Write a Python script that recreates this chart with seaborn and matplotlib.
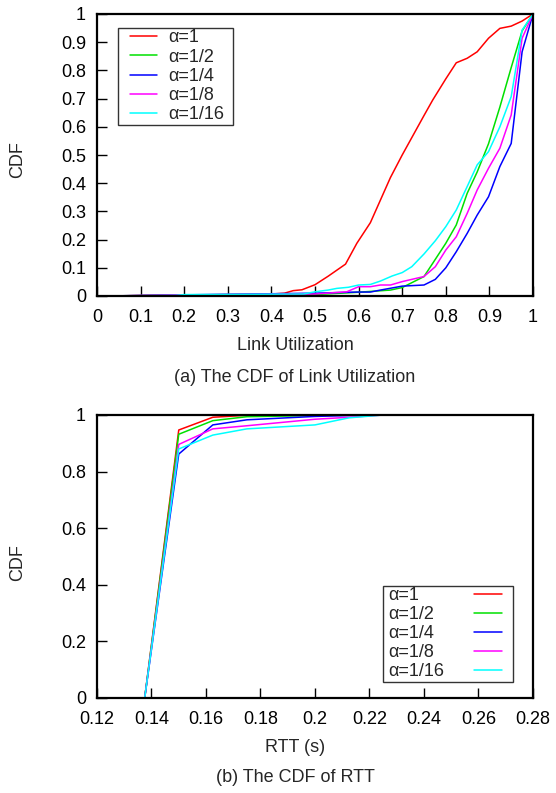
import numpy as np
import pandas as pd
import matplotlib
matplotlib.use("Agg")
import matplotlib.pyplot as plt
from matplotlib.path import Path
import seaborn as sns

sns.set_theme(style="white")
plt.rcParams['font.family'] = ['Liberation Sans', 'DejaVu Sans']
plt.rcParams['font.size'] = 13

labels = ["α=1", "α=1/2", "α=1/4", "α=1/8", "α=1/16"]
colors = ["#ff0000", "#00e000", "#0000ff", "#ff00ff", "#00ffff"]

# (a) Link utilization CDF
util_red_x = [0.023, 0.40, 0.43, 0.45, 0.47, 0.50, 0.53, 0.57, 0.596, 0.627, 0.673, 0.70, 0.75, 0.77, 0.80, 0.824, 0.849, 0.872, 0.898, 0.924, 0.95, 0.975, 1.0]
util_red_y = [0.0, 0.007, 0.01, 0.019, 0.022, 0.04, 0.07, 0.113, 0.187, 0.26, 0.42, 0.50, 0.64, 0.695, 0.77, 0.827, 0.843, 0.866, 0.914, 0.949, 0.957, 0.975, 1.0]
util_green_x = [0.023, 0.20, 0.50, 0.596, 0.673, 0.70, 0.75, 0.77, 0.80, 0.824, 0.849, 0.872, 0.898, 0.924, 0.95, 0.975, 1.0]
util_green_y = [0.0, 0.004, 0.005, 0.013, 0.021, 0.03, 0.069, 0.116, 0.187, 0.252, 0.364, 0.44, 0.54, 0.67, 0.81, 0.94, 1.0]
util_blue_x = [0.023, 0.20, 0.50, 0.596, 0.627, 0.65, 0.70, 0.75, 0.776, 0.80, 0.824, 0.849, 0.872, 0.898, 0.924, 0.95, 0.975, 1.0]
util_blue_y = [0.0, 0.004, 0.01, 0.014, 0.014, 0.021, 0.035, 0.039, 0.059, 0.10, 0.157, 0.222, 0.287, 0.352, 0.459, 0.541, 0.866, 1.0]
util_mag_x = [0.023, 0.20, 0.50, 0.573, 0.60, 0.627, 0.65, 0.673, 0.70, 0.722, 0.75, 0.776, 0.80, 0.824, 0.849, 0.872, 0.898, 0.924, 0.95, 0.975, 1.0]
util_mag_y = [0.0, 0.004, 0.007, 0.015, 0.033, 0.033, 0.039, 0.039, 0.051, 0.059, 0.069, 0.104, 0.163, 0.21, 0.293, 0.376, 0.453, 0.524, 0.642, 0.914, 1.0]
util_cyan_x = [0.023, 0.18, 0.20, 0.474, 0.50, 0.53, 0.55, 0.577, 0.60, 0.627, 0.65, 0.677, 0.70, 0.722, 0.75, 0.776, 0.80, 0.824, 0.849, 0.872, 0.898, 0.924, 0.95, 0.975, 1.0]
util_cyan_y = [0.0, 0.002, 0.005, 0.007, 0.015, 0.021, 0.027, 0.031, 0.039, 0.041, 0.053, 0.071, 0.083, 0.104, 0.149, 0.196, 0.246, 0.305, 0.388, 0.465, 0.512, 0.60, 0.707, 0.943, 1.0]

# (b) RTT CDF
rtt_x = [0.1375, 0.15, 0.1625, 0.175, 0.2, 0.2125, 0.225, 0.275]
rtt_red = [0.0, 0.947, 0.992, 0.999, 1.0, 1.0, 1.0, 1.0]
rtt_green = [0.0, 0.932, 0.98, 0.994, 0.998, 1.0, 1.0, 1.0]
rtt_blue = [0.0, 0.862, 0.965, 0.983, 0.995, 0.998, 1.0, 1.0]
rtt_mag = [0.0, 0.896, 0.951, 0.962, 0.985, 0.992, 1.0, 1.0]
rtt_cyan = [0.0, 0.88, 0.929, 0.951, 0.965, 0.990, 1.0, 1.0]

util_series = [(util_red_x, util_red_y), (util_green_x, util_green_y), (util_blue_x, util_blue_y),
               (util_mag_x, util_mag_y), (util_cyan_x, util_cyan_y)]
rtt_series = [rtt_red, rtt_green, rtt_blue, rtt_mag, rtt_cyan]

fig = plt.figure(figsize=(5.56, 7.93), dpi=100)
ax1 = fig.add_axes([97/556, 1-296/793, 436/556, 282/793])
ax2 = fig.add_axes([97/556, 1-698/793, 436/556, 283/793])

LW = 1.1
for (xs, ys), lab, c in zip(util_series, labels, colors):
    sns.lineplot(x=xs, y=ys, ax=ax1, color=c, label=lab, linewidth=LW, sort=False, estimator=None)
for ys, lab, c in zip(rtt_series, labels, colors):
    sns.lineplot(x=rtt_x, y=ys, ax=ax2, color=c, label=lab, linewidth=LW, sort=False, estimator=None)

def style(ax):
    for s in ax.spines.values():
        s.set_color("black")
        s.set_linewidth(1.6)
    ax.tick_params(direction="in", length=7, width=1, colors="black", labelsize=13,
                   bottom=True, left=True, top=False, right=False, pad=8)
    ax.tick_params(axis="x", pad=9)
    ax.grid(False)

ax1.set_xlim(0, 1)
ax1.set_ylim(0, 1)
ax1.set_xticks(np.arange(0, 1.01, 0.1))
ax1.set_xticklabels(["0", "0.1", "0.2", "0.3", "0.4", "0.5", "0.6", "0.7", "0.8", "0.9", "1"])
ax1.set_yticks(np.arange(0, 1.01, 0.1))
ax1.set_yticklabels(["0", "0.1", "0.2", "0.3", "0.4", "0.5", "0.6", "0.7", "0.8", "0.9", "1"])
ax1.set_xlabel("Link Utilization", fontsize=13)
ax1.set_ylabel("CDF", fontsize=13)
ax1.xaxis.set_label_coords((295-97)/436, (296-345)/282)
ax1.xaxis.label.set_va("center")
ax1.yaxis.set_label_coords((18-97)/436, (296-160)/282)
ax1.yaxis.label.set_va("center")
style(ax1)

ax2.set_xlim(0.12, 0.28)
ax2.set_ylim(0, 1)
ax2.set_xticks(np.arange(0.12, 0.2801, 0.02))
ax2.set_xticklabels(["0.12", "0.14", "0.16", "0.18", "0.2", "0.22", "0.24", "0.26", "0.28"])
ax2.set_yticks(np.arange(0, 1.01, 0.2))
ax2.set_yticklabels(["0", "0.2", "0.4", "0.6", "0.8", "1"])
ax2.set_xlabel("RTT (s)", fontsize=13)
ax2.set_ylabel("CDF", fontsize=13)
ax2.xaxis.set_label_coords((295-97)/436, (698-747)/283)
ax2.xaxis.label.set_va("center")
ax2.yaxis.set_label_coords((18-97)/436, (698-563)/283)
ax2.yaxis.label.set_va("center")
style(ax2)


def padded_box(left, right, top, bottom):
    def box(x0, y0, width, height, mutation_size):
        xa, xb = x0 - left, x0 + width + right
        ya, yb = y0 - bottom, y0 + height + top
        return Path([(xa, ya), (xb, ya), (xb, yb), (xa, yb), (xa, ya)], closed=True)
    return box


leg1 = ax1.legend(loc="upper left", bbox_to_anchor=((130-97)/436, (296-29.5)/282),
                  frameon=True, fancybox=False, fontsize=13, handlelength=1.5,
                  labelspacing=0.12, borderpad=0.0, handletextpad=0.6, borderaxespad=0)
leg1.get_frame().set_edgecolor("black")
leg1.get_frame().set_linewidth(1.0)
leg1.get_frame().set_boxstyle(padded_box(12, 9, 1.5, 1.5))

leg2 = ax2.legend(loc="lower right", bbox_to_anchor=((502-97)/436, (698-680.5)/283),
                  frameon=True, fancybox=False, fontsize=13, handlelength=1.55,
                  labelspacing=0.12, borderpad=0.0, handletextpad=1.0, borderaxespad=0,
                  markerfirst=False)
leg2.get_frame().set_edgecolor("black")
leg2.get_frame().set_linewidth(1.0)
leg2.get_frame().set_boxstyle(padded_box(5, 11, 0.5, 1.5))

fig.text(295/556, 1-378/793, "(a) The CDF of Link Utilization", ha="center", va="center", fontsize=13)
fig.text(295/556, 1-778/793, "(b) The CDF of RTT", ha="center", va="center", fontsize=13)

# left-align text in the second legend while keeping line samples right-aligned
fig.canvas.draw()
r = fig.canvas.get_renderer()
ptpx = r.points_to_pixels(1.0)
widths = [t.get_window_extent(r).width for t in leg2.get_texts()]
hw = 1.55 * 13 * ptpx
row_w = 502 - 388
col = leg2._legend_handle_box.get_children()[0]
for row, w in zip(col.get_children(), widths):
    row.sep = max(row_w - hw - w, 4) / ptpx
col.align = "left"

fig.savefig("out.png", dpi=100)
